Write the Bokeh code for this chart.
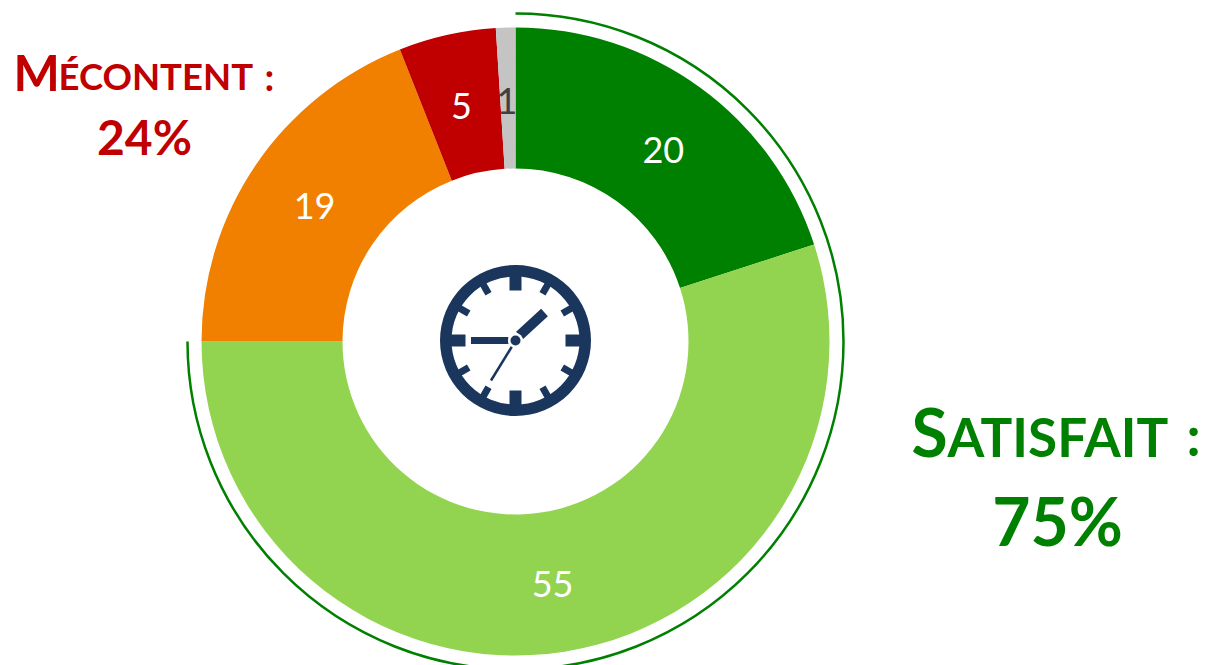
import math
from bokeh.plotting import figure
from bokeh.models import Range1d
from bokeh.core.properties import value
from bokeh.embed import file_html
from bokeh.resources import INLINE

# Data
categories = ["Très satisfait", "Satisfait", "Peu satisfait", "Pas satisfait", "Sans réponse"]
values = [20, 55, 19, 5, 1]
colors = ["#008000", "#92D350", "#F17F00", "#C00000", "#C4C4C4"]
label_colors = ["#FFFFFF", "#FFFFFF", "#FFFFFF", "#FFFFFF", "#404040"]
satisfied_share = 75

# Layout (pixels on the page)
W, H = 1207, 665
CX, CY = 515, 341
R_OUT, R_IN, R_ARC, R_LAB = 314, 173, 328, 243
label_shift = [(5, 5), (-1, 2), (0, 1), (-1, 2), (-1, 2)]
NAVY = "#1A365D"
FONT = value("Lato")

def X(px): return px
def Y(py): return 665 - py

p = figure(width=W, height=H, output_backend="svg", toolbar_location=None,
           x_range=Range1d(0, W), y_range=Range1d(0, H),
           min_border=0, outline_line_color=None)
p.xaxis.visible = False
p.yaxis.visible = False
p.grid.visible = False

# Donut
total = sum(values)
cum = 0
for v, c, lc, (dx, dy) in zip(values, colors, label_colors, label_shift):
    a0 = math.pi / 2 - 2 * math.pi * cum / total
    a1 = math.pi / 2 - 2 * math.pi * (cum + v) / total
    p.annular_wedge(x=X(CX), y=Y(CY), inner_radius=R_IN, outer_radius=R_OUT,
                    start_angle=a1, end_angle=a0, fill_color=c, line_color=None)
    mid = (a0 + a1) / 2
    p.text(x=[X(CX + R_LAB * math.cos(mid) + dx)], y=[Y(CY - R_LAB * math.sin(mid) + dy)],
           text=[str(v)], text_color=lc, text_font=FONT, text_font_size="36px",
           text_align="center", text_baseline="middle")
    cum += v

# Outer arc for the satisfied share
p.arc(x=X(CX), y=Y(CY), radius=R_ARC, start_angle=math.pi / 2 - 2 * math.pi * satisfied_share / total,
      end_angle=math.pi / 2, line_color="#008000", line_width=2.5)

# Clock icon
cx, cy = 515, 340
p.annulus(x=X(cx), y=Y(cy), inner_radius=64, outer_radius=75.5, fill_color=NAVY, line_color=None)
for i in range(12):
    a = math.radians(i * 30)
    major = i % 3 == 0
    r0 = 50 if major else 54
    s, c = math.sin(a), math.cos(a)
    p.segment(x0=[X(cx + r0 * s)], y0=[Y(cy - r0 * c)], x1=[X(cx + 66 * s)], y1=[Y(cy - 66 * c)],
              line_color=NAVY, line_width=12 if major else 7, line_cap="butt")
p.segment(x0=[X(470.5)], y0=[Y(340)], x1=[X(508)], y1=[Y(340)], line_color=NAVY, line_width=7, line_cap="butt")
p.segment(x0=[X(519)], y0=[Y(335)], x1=[X(544)], y1=[Y(312)], line_color=NAVY, line_width=10, line_cap="butt")
p.segment(x0=[X(511.5)], y0=[Y(346)], x1=[X(490.5)], y1=[Y(380)], line_color=NAVY, line_width=2.5, line_cap="butt")
p.circle(x=[X(cx)], y=[Y(cy)], radius=7.5, fill_color="#FFFFFF", line_color=None)
p.circle(x=[X(cx)], y=[Y(cy)], radius=5, fill_color=NAVY, line_color=None)

# Small-caps annotations
def t(x, y, s, size, color, align="left"):
    p.text(x=[X(x)], y=[Y(y - 0.385 * size)], text=[s], text_color=color, text_font=FONT,
           text_font_style="bold", text_font_size=f"{size}px", text_align=align, text_baseline="alphabetic")

RED, GREEN = "#C00000", "#008000"
t(13, 90, "M", 49, RED)
t(58, 90, "ÉCONTENT", 36.5, RED)
t(264, 90, ":", 38, RED)
t(144, 154.5, "24%", 48, RED, "center")
t(911, 456, "S", 66, GREEN)
t(947, 456, "ATISFAIT", 53, GREEN)
t(1186, 456, ":", 55, GREEN)
t(1057, 545, "75%", 66, GREEN, "center")

open("out.html", "w").write(file_html(p, INLINE))
